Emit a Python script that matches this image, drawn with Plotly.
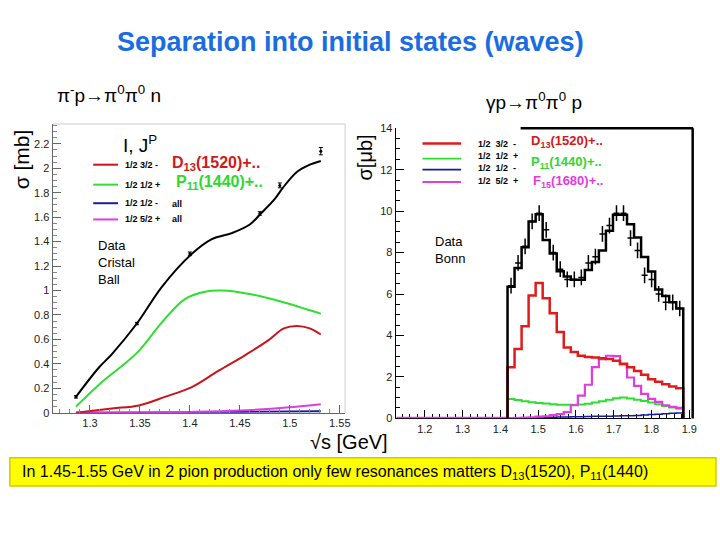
import numpy as np
import plotly.graph_objects as go

W, H = 720, 540
def px(x): return x / W
def py(y): return 1 - y / H

# ---------------- Left panel: pi- p -> pi0 pi0 n (Crystal Ball) ----------------
tot_x = [1.286, 1.309, 1.322, 1.347, 1.372, 1.402, 1.422, 1.442, 1.460, 1.471, 1.485, 1.493, 1.507, 1.520, 1.531]
tot_y = [0.13, 0.37, 0.48, 0.73, 1.03, 1.30, 1.42, 1.47, 1.54, 1.63, 1.75, 1.84, 1.97, 2.03, 2.06]
cb_x = [1.286, 1.347, 1.400, 1.470, 1.490, 1.531]
cb_y = [0.13, 0.73, 1.30, 1.63, 1.86, 2.14]
cb_err = [0.01, 0.01, 0.015, 0.015, 0.02, 0.03]
p11_x = [1.286, 1.309, 1.347, 1.372, 1.395, 1.415, 1.432, 1.461, 1.491, 1.531]
p11_y = [0.05, 0.23, 0.49, 0.74, 0.93, 0.99, 1.00, 0.97, 0.91, 0.81]
d13_x = [1.286, 1.322, 1.349, 1.375, 1.402, 1.428, 1.455, 1.478, 1.494, 1.507, 1.520, 1.531]
d13_y = [0.0, 0.035, 0.06, 0.13, 0.21, 0.34, 0.47, 0.59, 0.69, 0.71, 0.69, 0.64]
f15_x = [1.286, 1.35, 1.40, 1.45, 1.50, 1.531]
f15_y = [0.0, 0.003, 0.007, 0.018, 0.045, 0.07]
s11_x = [1.286, 1.40, 1.45, 1.50, 1.531]
s11_y = [0.0, 0.003, 0.006, 0.010, 0.012]

# ---------------- Right panel: gamma p -> pi0 pi0 p (Bonn) ----------------
bin_lo, bin_hi, n_bins = 1.419, 1.884, 25
h_total = [6.35, 7.25, 8.25, 9.5, 9.85, 8.6, 7.95, 7.1, 6.84, 6.69, 6.69, 7.16, 7.55, 8.1, 9.05, 9.83, 9.83, 9.36, 8.73, 7.79, 7.08, 6.22, 5.9, 5.6, 5.3]
bonn_y = [6.4, 7.5, 8.3, 9.5, 9.9, 9.1, 8.0, 7.2, 6.7, 6.7, 6.8, 7.5, 7.8, 8.9, 9.3, 9.9, 9.9, 8.7, 8.1, 6.9, 6.7, 6.0, 5.6, 5.6, 5.3]
h_d13 = [2.47, 3.34, 4.44, 5.93, 6.53, 5.79, 5.07, 4.17, 3.42, 3.2, 3.02, 2.96, 2.93, 2.9, 2.86, 2.78, 2.63, 2.47, 2.28, 2.1, 1.89, 1.76, 1.65, 1.53, 1.45]
h_p11 = [0.93, 0.88, 0.83, 0.78, 0.74, 0.71, 0.68, 0.66, 0.65, 0.65, 0.67, 0.70, 0.76, 0.83, 0.90, 0.97, 1.0, 0.96, 0.90, 0.84, 0.76, 0.68, 0.60, 0.52, 0.46]
h_s11 = [0.0, 0.0, 0.01, 0.02, 0.03, 0.04, 0.05, 0.06, 0.07, 0.08, 0.08, 0.09, 0.10, 0.10, 0.10, 0.11, 0.12, 0.13, 0.14, 0.16, 0.18, 0.20, 0.22, 0.24, 0.26]
h_f15 = [0.01, 0.02, 0.03, 0.05, 0.08, 0.10, 0.15, 0.20, 0.30, 0.63, 1.10, 1.62, 2.47, 2.86, 3.02, 3.0, 2.6, 1.97, 1.57, 1.18, 0.94, 0.79, 0.63, 0.55, 0.50]

edges = np.linspace(bin_lo, bin_hi, n_bins + 1)
centers = 0.5 * (edges[:-1] + edges[1:])

def step(vals):
    xs = [edges[0], edges[0]] + list(edges[1:]) + [edges[-1]]
    ys = [0] + list(vals) + [vals[-1], 0]
    return xs, ys

RED, GREEN, BLUE, MAG = "#e01b1b", "#2ee02e", "#1a1a9c", "#e03ce0"

fig = go.Figure()

def lcurve(x, y, color, w=2):
    fig.add_trace(go.Scatter(x=x, y=y, mode="lines", line=dict(color=color, width=w, shape="spline", smoothing=1.0),
                             xaxis="x", yaxis="y", showlegend=False, hoverinfo="skip"))
lcurve(s11_x, s11_y, BLUE)
lcurve(f15_x, f15_y, MAG)
lcurve(d13_x, d13_y, "#c8141c")
lcurve(p11_x, p11_y, GREEN)
lcurve(tot_x, tot_y, "black")
fig.add_trace(go.Scatter(x=cb_x, y=cb_y, mode="markers", marker=dict(color="black", size=3),
                         error_y=dict(type="data", array=cb_err, color="black", thickness=1, width=2),
                         xaxis="x", yaxis="y", showlegend=False))

fig.add_trace(go.Scatter(x=[1.125, edges[0]], y=[0.03, 0.03], mode="lines", line=dict(color=MAG, width=2),
                         xaxis="x2", yaxis="y2", showlegend=False))
for vals, color, w in [(h_s11, BLUE, 1.5), (h_p11, GREEN, 2), (h_f15, MAG, 2.2), (h_d13, RED, 2.5), (h_total, "black", 2.5)]:
    xs, ys = step(vals)
    fig.add_trace(go.Scatter(x=xs, y=ys, mode="lines", line=dict(color=color, width=w, shape="hv"),
                             xaxis="x2", yaxis="y2", showlegend=False, hoverinfo="skip"))
fig.add_trace(go.Scatter(x=centers, y=bonn_y, mode="markers", marker=dict(color="black", size=1),
                         error_y=dict(type="constant", value=0.38, color="black", thickness=1.5, width=0),
                         error_x=dict(type="constant", value=0.008, color="black", thickness=1.5, width=0),
                         xaxis="x2", yaxis="y2", showlegend=False))

tickfont = dict(family="Liberation Sans, Arial", size=11, color="#222")
fig.update_layout(
    autosize=True, margin=dict(l=0, r=0, t=0, b=0),
    paper_bgcolor="white", plot_bgcolor="white",
    xaxis=dict(domain=[px(53), px(348)], range=[1.2626, 1.5553], anchor="y",
               tick0=1.3, dtick=0.05, ticks="inside", ticklen=8, tickcolor="#666",
               minor=dict(ticks="inside", dtick=0.01, ticklen=4, tickcolor="#888"),
               showline=True, linecolor="#666", linewidth=1, showgrid=False, zeroline=False,
               tickfont=tickfont, tickformat=".2~f"),
    yaxis=dict(domain=[py(416), py(120.7)], range=[0, 2.362], anchor="x",
               dtick=0.2, ticks="inside", ticklen=8, tickcolor="#666",
               minor=dict(ticks="inside", dtick=0.05, ticklen=4, tickcolor="#888"),
               showline=True, linecolor="#666", linewidth=1, showgrid=False, zeroline=False,
               tickfont=tickfont, tickformat="~g"),
    xaxis2=dict(domain=[px(399), px(697)], range=[1.123, 1.905], anchor="y2",
                tick0=1.2, dtick=0.1, ticks="inside", ticklen=8, tickcolor="black",
                minor=dict(ticks="inside", dtick=0.02, ticklen=4, tickcolor="black"),
                showline=True, linecolor="black", linewidth=1, showgrid=False, zeroline=False,
                tickfont=tickfont, layer="below traces"),
    yaxis2=dict(domain=[py(421.7), py(125)], range=[0, 14], anchor="x2",
                dtick=2, ticks="inside", ticklen=8, tickcolor="black",
                minor=dict(ticks="inside", dtick=0.5, ticklen=4, tickcolor="black"),
                showline=True, linecolor="black", linewidth=1, showgrid=False, zeroline=False,
                tickfont=tickfont),
)

shapes = []
shapes.append(dict(type="line", xref="paper", yref="paper", x0=px(53), x1=px(348), y0=py(120.7), y1=py(120.7), line=dict(color="#cccccc", width=1)))
shapes.append(dict(type="line", xref="paper", yref="paper", x0=px(348), x1=px(348), y0=py(120.7), y1=py(416), line=dict(color="#cccccc", width=1)))
shapes.append(dict(type="line", xref="paper", yref="paper", x0=px(525), x1=px(699), y0=py(125), y1=py(125), line=dict(color="black", width=2.5)))
shapes.append(dict(type="line", xref="paper", yref="paper", x0=px(698.5), x1=px(698.5), y0=py(125), y1=py(422), line=dict(color="black", width=2.5)))
for yy, c in [(162.3, "#c8141c"), (182.7, GREEN), (201.7, BLUE), (218.3, MAG)]:
    shapes.append(dict(type="line", xref="paper", yref="paper", x0=px(94), x1=px(119), y0=py(yy), y1=py(yy), line=dict(color=c, width=2)))
for yy, c, w in [(140.7, RED, 2.5), (156, GREEN, 1.8), (167.3, BLUE, 1.8), (180, MAG, 1.8)]:
    shapes.append(dict(type="line", xref="paper", yref="paper", x0=px(426), x1=px(465), y0=py(yy), y1=py(yy), line=dict(color=c, width=w)))
shapes.append(dict(type="rect", xref="paper", yref="paper", x0=px(10), x1=px(722), y0=py(491), y1=py(462),
                   fillcolor="#ffff00", line=dict(color="#d8c800", width=1.5), layer="below"))
fig.update_layout(shapes=shapes)

ann = []
def text(x, y, s, size=12, color="black", xanchor="left", family="Liberation Sans, Arial", bold=False, angle=0, align="left"):
    if bold:
        s = "<b>" + s + "</b>"
    ann.append(dict(xref="paper", yref="paper", x=px(x), y=py(y), text=s, showarrow=False,
                    xanchor=xanchor, yanchor="middle", textangle=angle, align=align,
                    font=dict(size=size, color=color, family=family)))

text(353, 37, "Separation into initial states (waves)", 27, "#1a6de0", "center", bold=True)
text(55, 90, "π<sup>-</sup>p→π<sup>0</sup>π<sup>0</sup> n", 19)
text(488, 97, "γp→π<sup>0</sup>π<sup>0</sup> p", 19)
text(22, 157, "σ [mb]", 21, angle=-90, xanchor="center")
text(368, 155, "σ[μb]", 20, angle=-90, xanchor="center")
text(352, 446, "√s [GeV]", 20, xanchor="center")
text(122, 141, "I, J<sup>P</sup>", 19)
for yy, lab in [(162.3, "1/2 3/2 -"), (182.7, "1/2 1/2 +"), (201.7, "1/2 1/2 -"), (218.3, "1/2 5/2 +")]:
    text(124, yy, lab, 9, bold=True)
text(171, 161, "D<sub>13</sub>(1520)+..", 16, "#d21818", bold=True)
text(175, 181, "P<sub>11</sub>(1440)+..", 16, "#2ed82e", bold=True)
text(171, 202, "all", 9, bold=True)
text(171, 218, "all", 9, bold=True)
for yy, lab in [(140.7, "1/2  3/2  -"), (153.5, "1/2  1/2  +"), (166, "1/2  1/2  -"), (179, "1/2  5/2  +")]:
    text(480, yy, lab, 9, bold=True)
text(533, 139, "D<sub>13</sub>(1520)+..", 13, "#d21818", bold=True)
text(533, 160, "P<sub>11</sub>(1440)+..", 13, "#2ed82e", bold=True)
text(535, 180, "F<sub>15</sub>(1680)+..", 13, "#e03ce0", bold=True)
text(97, 262, "Data<br>Cristal<br>Ball", 13)
text(437, 250, "Data<br>Bonn", 13)
text(20, 477, "In 1.45-1.55 GeV in 2 pion production only few resonances matters D<sub>13</sub>(1520), P<sub>11</sub>(1440)", 16,
     family="Liberation Sans, Arial")
fig.update_layout(annotations=ann)

post = ("document.body.style.margin='0';document.body.style.overflow='hidden';"
        "document.documentElement.style.overflow='hidden';"
        "Plotly.Plots.resize(document.getElementById('{plot_id}'));")
fig.write_html("out.html", default_width="100vw", default_height="100vh",
               config={"displayModeBar": False, "responsive": True}, post_script=post)
